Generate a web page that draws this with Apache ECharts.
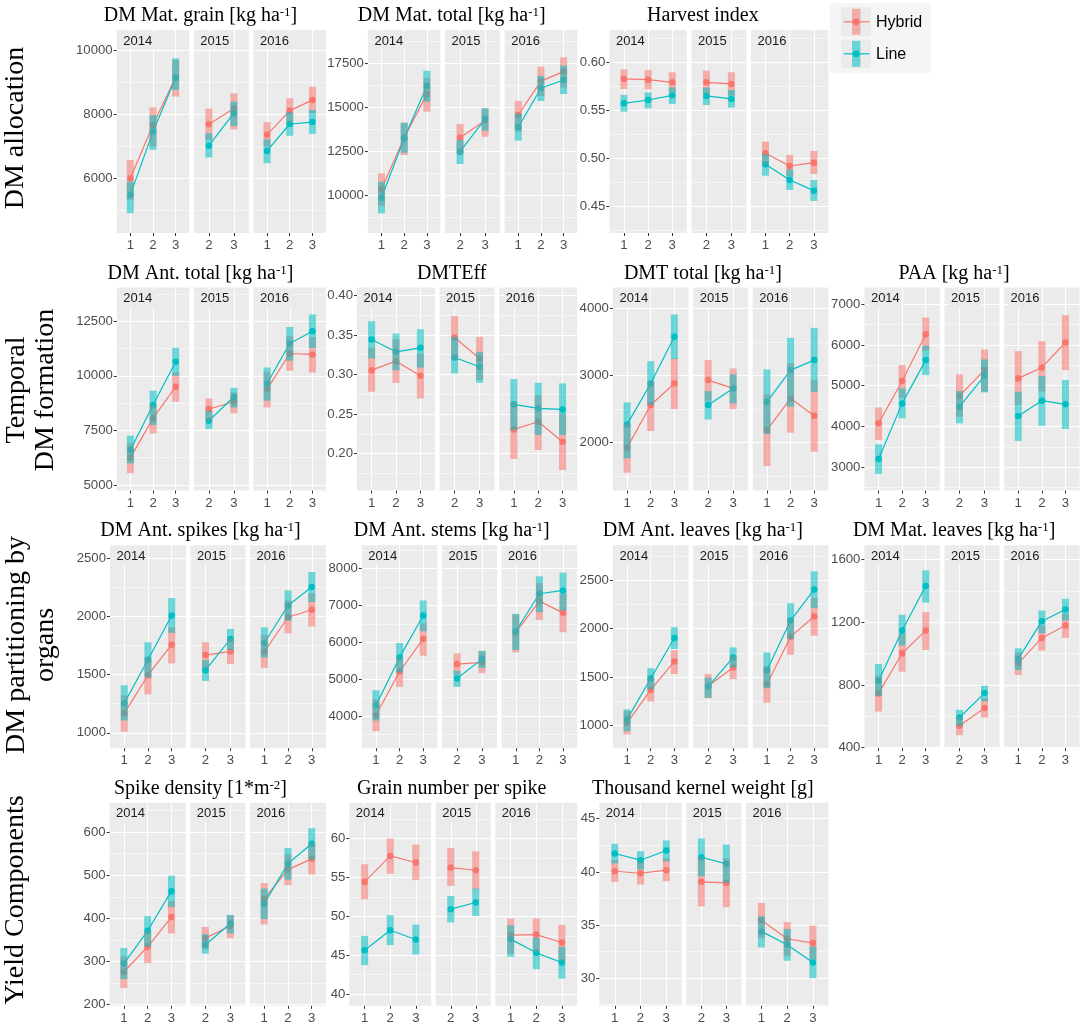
<!DOCTYPE html>
<html>
<head>
<meta charset="utf-8">
<script src="https://cdn.jsdelivr.net/npm/echarts@6/dist/echarts.min.js"></script>
<style>
  html, body { margin: 0; padding: 0; background: #fff; }
  #chart { width: 1084px; height: 1026px; }
</style>
</head>
<body>
<div id="chart"></div>
<script>
// facets: year strips, and the x levels present in each year
const years = ['2014', '2015', '2016'];
const levels = [[1, 2, 3], [2, 3], [1, 2, 3]];
const genotypes = ['Hybrid', 'Line'];

// each entry: [mean, lower, upper], order 2014:1,2,3 | 2015:2,3 | 2016:1,2,3
const grainHyb = [[6000, 5320, 6570], [7670, 6990, 8220], [9170, 8560, 9710], [7690, 7200, 8180], [8190, 7530, 8660], [7360, 6990, 7760], [8120, 7740, 8510], [8450, 8040, 8870]];
const grainLine = [[5475, 4900, 5890], [7460, 6890, 7980], [9150, 8770, 9760], [7020, 6650, 7410], [8040, 7640, 8400], [6855, 6470, 7220], [7700, 7330, 8070], [7760, 7390, 8140]];

const totMatHyb = [[10330, 9380, 11240], [13270, 12280, 14120], [15740, 14750, 16650], [13270, 12340, 14050], [14240, 13320, 14940], [14560, 13610, 15360], [16490, 15640, 17310], [17030, 16130, 17840]];
const totMatLine = [[9850, 8960, 10760], [13230, 12410, 14120], [16210, 15320, 17080], [12470, 11770, 13140], [14330, 13670, 14940], [13860, 13100, 14650], [16080, 15360, 16780], [16550, 15750, 17370]];

const hiHyb = [[0.583, 0.5726, 0.593], [0.5823, 0.5722, 0.5924], [0.5795, 0.5691, 0.590], [0.5795, 0.5674, 0.5917], [0.5778, 0.5656, 0.590], [0.5056, 0.4941, 0.5177], [0.4924, 0.4813, 0.5038], [0.4958, 0.484, 0.508]];
const hiLine = [[0.5576, 0.549, 0.5663], [0.5611, 0.5524, 0.5691], [0.566, 0.5569, 0.5743], [0.5653, 0.5559, 0.574], [0.5622, 0.5531, 0.5715], [0.4941, 0.4823, 0.5049], [0.4778, 0.4674, 0.4889], [0.4667, 0.4559, 0.4778]];

const antTotHyb = [[6250, 5540, 6910], [8050, 7360, 8690], [9500, 8810, 10150], [8480, 7940, 8960], [8810, 8280, 9240], [9390, 8550, 10180], [11020, 10230, 11810], [10980, 10150, 11780]];
const antTotLine = [[6600, 5990, 7260], [8660, 7750, 9320], [10640, 10000, 11280], [7940, 7560, 8390], [9040, 8550, 9450], [9650, 8860, 10380], [11480, 10690, 12240], [12040, 11280, 12810]];

const dmtEffHyb = [[0.3055, 0.2782, 0.3336], [0.3168, 0.2895, 0.3445], [0.2983, 0.2697, 0.3265], [0.3466, 0.3181, 0.3739], [0.3202, 0.2929, 0.3475], [0.2307, 0.1933, 0.2655], [0.2403, 0.2046, 0.2739], [0.2151, 0.1794, 0.2508]];
const dmtEffLine = [[0.3441, 0.3202, 0.3672], [0.3286, 0.3055, 0.3517], [0.3336, 0.3088, 0.3571], [0.3214, 0.3013, 0.3475], [0.3097, 0.2895, 0.3286], [0.2622, 0.2298, 0.2941], [0.2571, 0.2235, 0.2895], [0.2559, 0.2235, 0.2887]];

const dmtHyb = [[1926, 1553, 2288], [2561, 2174, 2918], [2883, 2501, 3256], [2933, 2620, 3231], [2809, 2501, 3107], [2189, 1653, 2720], [2660, 2149, 3181], [2402, 1866, 2933]];
const dmtLine = [[2273, 1767, 2600], [2883, 2561, 3216], [3578, 3246, 3911], [2561, 2347, 2769], [2809, 2586, 3017], [2610, 2129, 3092], [3082, 2536, 3563], [3231, 2759, 3712]];

const paaHyb = [[4078, 3669, 4469], [5114, 4706, 5506], [6265, 5857, 6673], [4755, 4241, 5278], [5384, 4853, 5890], [5180, 4527, 5849], [5449, 4853, 6094], [6061, 5384, 6731]];
const paaLine = [[3204, 2837, 3563], [4567, 4200, 4935], [5629, 5261, 5980], [4486, 4078, 4869], [5245, 4837, 5645], [4257, 3645, 4853], [4633, 4020, 5237], [4543, 3939, 5139]];

const spikeHyb = [[1167, 1009, 1322], [1494, 1330, 1647], [1756, 1595, 1905], [1667, 1555, 1776], [1698, 1589, 1810], [1695, 1555, 1839], [1991, 1853, 2135], [2055, 1911, 2198]];
const spikeLine = [[1253, 1106, 1408], [1626, 1474, 1776], [2006, 1856, 2155], [1537, 1445, 1624], [1805, 1710, 1891], [1770, 1647, 1905], [2092, 1963, 2221], [2250, 2121, 2379]];

const stemHyb = [[4027, 3591, 4455], [5209, 4791, 5591], [6091, 5636, 6518], [5409, 5118, 5700], [5455, 5164, 5755], [6273, 5727, 6755], [7118, 6609, 7609], [6800, 6273, 7318]];
const stemLine = [[4291, 3882, 4700], [5591, 5182, 5982], [6727, 6300, 7136], [5018, 4791, 5227], [5545, 5300, 5773], [6300, 5791, 6773], [7318, 6818, 7791], [7409, 6864, 7891]];

const leafAntHyb = [[1027, 906, 1149], [1367, 1246, 1495], [1661, 1530, 1779], [1408, 1280, 1530], [1599, 1478, 1720], [1426, 1235, 1616], [1918, 1731, 2108], [2126, 1928, 2320]];
const leafAntLine = [[1062, 941, 1166], [1485, 1374, 1592], [1904, 1790, 2015], [1402, 1287, 1495], [1703, 1599, 1807], [1571, 1384, 1755], [2084, 1894, 2264], [2406, 2216, 2594]];

const leafMatHyb = [[746, 630, 859], [1002, 885, 1126], [1147, 1023, 1265], [539, 479, 596], [652, 592, 716], [938, 863, 1008], [1100, 1019, 1179], [1179, 1100, 1254]];
const leafMatLine = [[827, 731, 934], [1147, 1051, 1248], [1431, 1325, 1532], [592, 539, 641], [748, 695, 795], [966, 895, 1034], [1207, 1130, 1275], [1282, 1211, 1350]];

const densHyb = [[276, 238, 312], [334, 296, 371], [403, 365, 440], [354, 328, 380], [382, 354, 407], [445, 386, 482], [513, 477, 549], [538, 502, 575]];
const densLine = [[295, 259, 331], [371, 334, 405], [463, 426, 499], [338, 318, 363], [388, 365, 408], [434, 398, 469], [527, 490, 563], [573, 536, 609]];

const gnHyb = [[54.43, 52.2, 56.7], [57.77, 55.5, 60.0], [56.92, 54.65, 59.23], [56.27, 53.92, 58.8], [55.93, 53.49, 58.37], [47.58, 45.22, 49.72], [47.66, 45.44, 49.72], [46.64, 44.3, 48.9]];
const gnLine = [[45.65, 43.73, 47.49], [48.22, 46.3, 50.15], [47.02, 45.1, 48.95], [50.92, 49.21, 52.63], [51.78, 50.06, 53.58], [47.07, 44.8, 48.86], [45.31, 43.21, 47.24], [44.07, 42.0, 46.08]];

const tkwHyb = [[40.06, 39.06, 41.1], [39.87, 38.81, 40.94], [40.16, 39.12, 41.26], [39.06, 36.76, 41.38], [38.96, 36.67, 41.26], [35.44, 33.77, 37.08], [33.71, 32.11, 35.28], [33.3, 31.73, 34.94]];
const tkwLine = [[41.73, 40.79, 42.64], [41.1, 40.22, 41.95], [42.01, 41.0, 42.96], [41.38, 39.59, 43.14], [40.75, 38.96, 42.58], [34.4, 32.89, 35.82], [33.14, 31.64, 34.62], [31.48, 30.0, 32.99]];

// y tick labels per panel
const grainTicks = [6000, 8000, 10000];
const totMatTicks = [10000, 12500, 15000, 17500];
const hiTicks = [0.45, 0.50, 0.55, 0.60];
const antTotTicks = [5000, 7500, 10000, 12500];
const dmtEffTicks = [0.20, 0.25, 0.30, 0.35, 0.40];
const dmtTicks = [2000, 3000, 4000];
const paaTicks = [3000, 4000, 5000, 6000, 7000];
const spikeTicks = [1000, 1500, 2000, 2500];
const stemTicks = [4000, 5000, 6000, 7000, 8000];
const leafAntTicks = [1000, 1500, 2000, 2500];
const leafMatTicks = [400, 800, 1200, 1600];
const densTicks = [200, 300, 400, 500, 600];
const gnTicks = [40, 45, 50, 55, 60];
const tkwTicks = [30, 35, 40, 45];

const rowLabels = ['DM allocation', 'Temporal\nDM formation', 'DM partitioning by\norgans', 'Yield Components'];

// panel table (title split for the superscript)
const panels = [
  { t: 'DM Mat. grain [kg ha', s: '-1', e: ']', r: 0, c: 0, L: 116.7, hyb: grainHyb, lin: grainLine, y: [4280, 10650], ticks: grainTicks },
  { t: 'DM Mat. total [kg ha', s: '-1', e: ']', r: 0, c: 1, L: 367.9, hyb: totMatHyb, lin: totMatLine, y: [7840, 19400], ticks: totMatTicks },
  { t: 'Harvest index', r: 0, c: 2, L: 609.4, hyb: hiHyb, lin: hiLine, y: [0.4226, 0.634], ticks: hiTicks, dec: 2 },
  { t: 'DM Ant. total [kg ha', s: '-1', e: ']', r: 1, c: 0, L: 116.8, hyb: antTotHyb, lin: antTotLine, y: [4740, 14040], ticks: antTotTicks },
  { t: 'DMTEff', r: 1, c: 1, L: 357, hyb: dmtEffHyb, lin: dmtEffLine, y: [0.1534, 0.4097], ticks: dmtEffTicks, dec: 2 },
  { t: 'DMT total [kg ha', s: '-1', e: ']', r: 1, c: 2, L: 612.9, hyb: dmtHyb, lin: dmtLine, y: [1286, 4312], ticks: dmtTicks },
  { t: 'PAA [kg ha', s: '-1', e: ']', r: 1, c: 3, L: 864.4, hyb: paaHyb, lin: paaLine, y: [2426, 7409], ticks: paaTicks },
  { t: 'DM Ant. spikes [kg ha', s: '-1', e: ']', r: 2, c: 0, L: 110, hyb: spikeHyb, lin: spikeLine, y: [868, 2609], ticks: spikeTicks },
  { t: 'DM Ant. stems [kg ha', s: '-1', e: ']', r: 2, c: 1, L: 361.8, hyb: stemHyb, lin: stemLine, y: [3128, 8635], ticks: stemTicks },
  { t: 'DM Ant. leaves [kg ha', s: '-1', e: ']', r: 2, c: 2, L: 612.9, hyb: leafAntHyb, lin: leafAntLine, y: [764, 2864], ticks: leafAntTicks },
  { t: 'DM Mat. leaves [kg ha', s: '-1', e: ']', r: 2, c: 3, L: 864.4, hyb: leafMatHyb, lin: leafMatLine, y: [396, 1692], ticks: leafMatTicks },
  { t: 'Spike density [1*m', s: '-2', e: ']', r: 3, c: 0, L: 109.6, hyb: densHyb, lin: densLine, y: [197, 668], ticks: densTicks },
  { t: 'Grain number per spike', r: 3, c: 1, L: 349.3, hyb: gnHyb, lin: gnLine, y: [38.5, 64.6], ticks: gnTicks },
  { t: 'Thousand kernel weight [g]', r: 3, c: 2, L: 599.3, hyb: tkwHyb, lin: tkwLine, y: [27.4, 46.5], ticks: tkwTicks }
];

const rowTops = [30, 287.6, 545.2, 802.8];
const panelH = 203;
const colRights = [326, 577.2, 828.4, 1079.6];
const gap = 4.6, w15 = 55;
const colors = { Hybrid: '#F8766D', Line: '#00BFC4' };
const barFill = { Hybrid: 'rgba(248,118,109,0.55)', Line: 'rgba(0,191,196,0.55)' };
const SANS = 'Liberation Sans', SERIF = 'Liberation Serif';

const grid = [], xAxis = [], yAxis = [], series = [], graphic = [];

panels.forEach(p => {
  const top = rowTops[p.r], R = colRights[p.c];
  const w = (R - p.L - w15 - 2 * gap) / 2;
  const widths = [w, w15, w];
  const interval = +(p.ticks[1] - p.ticks[0]).toFixed(6);
  const fmt = v => p.dec ? (+v).toFixed(p.dec) : String(v);
  let x0 = p.L, off = 0;

  // panel title
  const title = p.s ? `{n|${p.t}}{s|${p.s}}{n|${p.e}}` : `{n|${p.t}}`;
  graphic.push({
    type: 'text', x: R - 125.5, y: top - 14, silent: true,
    style: {
      text: title, align: 'center', verticalAlign: 'middle',
      rich: {
        n: { fontSize: 20, fontFamily: SERIF, fill: '#000' },
        s: { fontSize: 13, fontFamily: SERIF, fill: '#000', verticalAlign: 'top' }
      }
    }
  });

  levels.forEach((lv, k) => {
    const gi = grid.length;
    grid.push({
      left: x0, top: top, width: widths[k], height: panelH,
      show: true, backgroundColor: '#EBEBEB', borderWidth: 0,
      containLabel: false, outerBoundsMode: 'none'
    });
    xAxis.push({
      type: 'value', gridIndex: gi,
      min: lv[0] - 0.6, max: lv[lv.length - 1] + 0.6,
      minInterval: 1, maxInterval: 1,
      axisLine: { show: false },
      axisTick: { show: true, length: 3, customValues: lv, lineStyle: { color: '#333', width: 1 } },
      axisLabel: { customValues: lv, margin: 6, fontSize: 13.2, color: '#4D4D4D', fontFamily: SANS },
      splitLine: { show: true, lineStyle: { color: '#fff', width: 1.1 } },
      minorSplitLine: { show: false }
    });
    yAxis.push({
      type: 'value', gridIndex: gi, min: p.y[0], max: p.y[1],
      minInterval: interval, maxInterval: interval,
      axisLine: { show: false },
      axisTick: { show: k === 0, length: 3, customValues: p.ticks, lineStyle: { color: '#333', width: 1 } },
      axisLabel: { show: k === 0, customValues: p.ticks, formatter: fmt, margin: 4, fontSize: 13.2, color: '#4D4D4D', fontFamily: SANS },
      splitLine: { show: true, lineStyle: { color: '#fff', width: 1.1 } },
      minorTick: { show: false, splitNumber: 2 },
      minorSplitLine: { show: true, lineStyle: { color: '#fff', width: 0.55 } }
    });

    genotypes.forEach(g => {
      const src = g === 'Hybrid' ? p.hyb : p.lin;
      const pts = lv.map((x, i) => [x, src[off + i][0]]);
      series.push({
        type: 'line', name: g, xAxisIndex: gi, yAxisIndex: gi, data: pts,
        symbol: 'circle', symbolSize: 6.5, z: 2, silent: true, animation: false,
        itemStyle: { color: colors[g] }, lineStyle: { color: colors[g], width: 1.2 }
      });
    });
    genotypes.forEach(g => {
      const src = g === 'Hybrid' ? p.hyb : p.lin;
      const bars = lv.map((x, i) => [x, src[off + i][1], src[off + i][2]]);
      series.push({
        type: 'custom', name: g + ' range', xAxisIndex: gi, yAxisIndex: gi, data: bars,
        z: 3, silent: true, animation: false,
        renderItem: (params, api) => {
          const hi = api.coord([api.value(0), api.value(2)]);
          const lo = api.coord([api.value(0), api.value(1)]);
          return {
            type: 'rect',
            shape: { x: hi[0] - 3.5, y: hi[1], width: 7, height: lo[1] - hi[1] },
            style: { fill: barFill[g] }
          };
        }
      });
    });

    // year strip label, with the panel grey behind it so grid lines stop there
    graphic.push({
      type: 'text', x: x0 + 4.5, y: top + 11, silent: true, z: 5,
      style: {
        text: years[k], fontSize: 13, fontFamily: SANS, fill: '#1A1A1A', verticalAlign: 'middle',
        backgroundColor: '#EBEBEB', padding: [2, 2, 2, 2]
      }
    });

    x0 += widths[k] + gap;
    off += lv.length;
  });
});

// row labels on the left
const rowY = [128, 390, 645, 900];
rowLabels.forEach((lab, i) => {
  const twoLines = lab.indexOf('\n') >= 0;
  graphic.push({
    type: 'text', x: twoLines ? 31 : 16, y: rowY[i], rotation: Math.PI / 2, silent: true,
    style: { text: lab, fontSize: 28, fontFamily: SERIF, fill: '#000', align: 'center', verticalAlign: 'middle', lineHeight: 29.5 }
  });
});

// legend
graphic.push({ type: 'rect', shape: { x: 829.7, y: 3.3, width: 101.3, height: 70 }, style: { fill: '#F5F5F5' }, z: 10, silent: true });
[['Hybrid', 21.8], ['Line', 53.8]].forEach(([g, cy]) => {
  graphic.push({ type: 'rect', shape: { x: 841.2, y: cy - 14.5, width: 29.5, height: 29 }, style: { fill: '#EBEBEB' }, z: 11, silent: true });
  graphic.push({ type: 'line', shape: { x1: 843.6, y1: cy, x2: 869.6, y2: cy }, style: { stroke: colors[g], lineWidth: 1.2 }, z: 12, silent: true });
  graphic.push({ type: 'circle', shape: { cx: 856.2, cy: cy, r: 3.4 }, style: { fill: colors[g] }, z: 12, silent: true });
  graphic.push({ type: 'rect', shape: { x: 852, y: cy - 13, width: 8.4, height: 26 }, style: { fill: barFill[g] }, z: 13, silent: true });
  graphic.push({ type: 'text', x: 876, y: cy + 0.5, style: { text: g, fontSize: 16, fontFamily: SANS, fill: '#000', verticalAlign: 'middle' }, z: 12, silent: true });
});

const chart = echarts.init(document.getElementById('chart'), null, { renderer: 'canvas' });
chart.setOption({
  animation: false,
  backgroundColor: '#fff',
  textStyle: { fontFamily: SANS },
  grid, xAxis, yAxis, series, graphic
});
</script>
</body>
</html>
